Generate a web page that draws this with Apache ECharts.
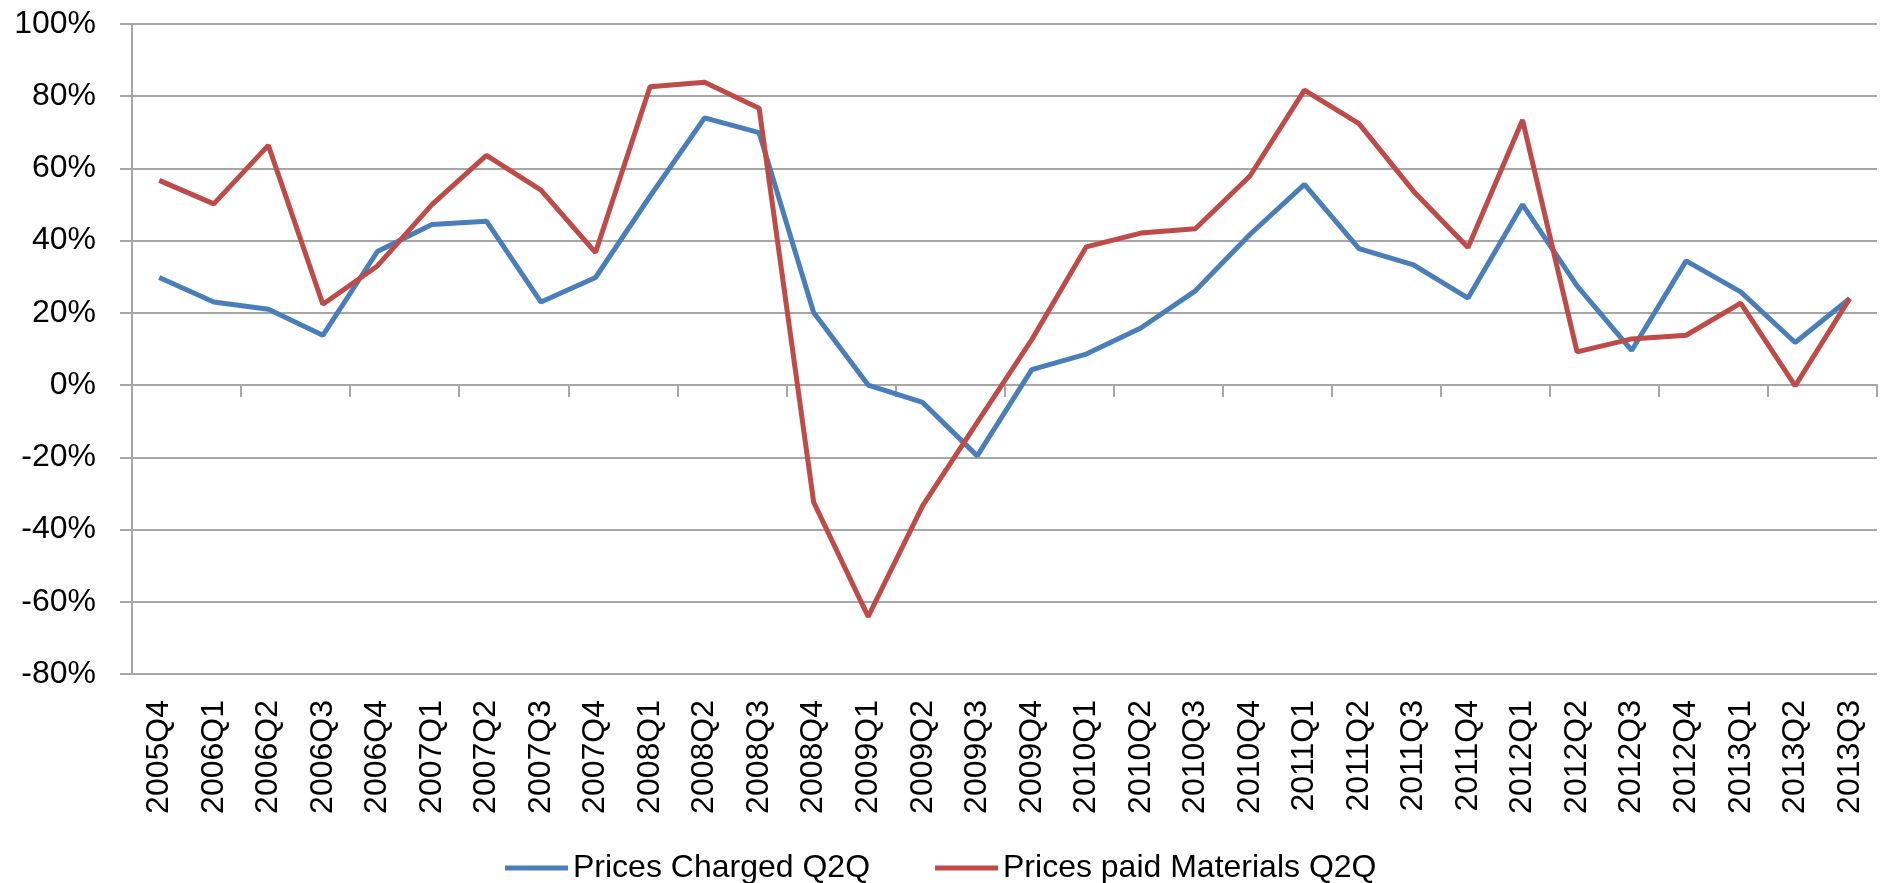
<!DOCTYPE html>
<html lang="en">

<head>
    <meta charset="UTF-8">
    <title>Prices Q2Q</title>
    <script src="https://cdn.jsdelivr.net/npm/echarts@6/dist/echarts.min.js"></script>
    <style>
        html, body {
            margin: 0;
            padding: 0;
            background: #fff;
        }

        #main {
            width: 1883px;
            height: 883px;
        }
    </style>
</head>

<body>
    <div id="main"></div>
    <script>
        // quarters on the x axis
        const quarters = [
            '2005Q4', '2006Q1', '2006Q2', '2006Q3', '2006Q4', '2007Q1', '2007Q2', '2007Q3',
            '2007Q4', '2008Q1', '2008Q2', '2008Q3', '2008Q4', '2009Q1', '2009Q2', '2009Q3',
            '2009Q4', '2010Q1', '2010Q2', '2010Q3', '2010Q4', '2011Q1', '2011Q2', '2011Q3',
            '2011Q4', '2012Q1', '2012Q2', '2012Q3', '2012Q4', '2013Q1', '2013Q2', '2013Q3'
        ];

        // values in percent
        const pricesCharged = [
            29.8, 23.0, 21.0, 13.8, 37.0, 44.5, 45.4, 23.0,
            29.8, 52.3, 74.0, 69.9, 20.1, 0.0, -4.8, -19.6,
            4.3, 8.6, 15.8, 26.1, 41.7, 55.6, 37.8, 33.3,
            24.1, 50.0, 27.5, 9.6, 34.4, 25.8, 11.8, 24.0
        ];
        const pricesPaidMaterials = [
            56.7, 50.2, 66.4, 22.4, 33.0, 50.0, 63.6, 54.0,
            36.7, 82.6, 83.9, 76.7, -32.4, -64.1, -33.4, -10.3,
            12.6, 38.3, 42.1, 43.3, 57.9, 81.7, 72.4, 53.7,
            38.1, 73.4, 9.2, 12.8, 13.8, 22.7, -0.2, 24.0
        ];

        const seriesNames = ['Prices Charged Q2Q', 'Prices paid Materials Q2Q'];
        const colors = ['#4A7EBB', '#BE4B48'];

        const font = 'Liberation Sans';
        const gridColor = '#a6a6a6';

        const chart = echarts.init(document.getElementById('main'));

        const option = {
            animation: false,
            color: colors,
            textStyle: { fontFamily: font },
            grid: {
                left: 132,
                right: 6,
                top: 24,
                bottom: 209,
                containLabel: false
            },
            legend: {
                data: seriesNames,
                left: 500,
                top: 847,
                icon: 'rect',
                itemWidth: 63,
                itemHeight: 5,
                itemGap: 65,
                textStyle: { fontSize: 32, color: '#000', fontFamily: font }
            },
            xAxis: [
                {
                    // labels along the bottom
                    type: 'category',
                    data: quarters,
                    position: 'bottom',
                    axisLine: { show: false, onZero: false },
                    axisTick: { show: false },
                    axisLabel: {
                        rotate: 90,
                        interval: 0,
                        margin: 26,
                        fontSize: 32,
                        color: '#000',
                        fontFamily: font
                    },
                    splitLine: { show: false }
                },
                {
                    // axis line with ticks at 0%
                    type: 'category',
                    data: quarters,
                    position: 'bottom',
                    axisLine: { show: true, onZero: true, lineStyle: { color: gridColor, width: 2 } },
                    axisTick: { show: true, length: 12, lineStyle: { color: gridColor, width: 2 } },
                    axisLabel: { show: false },
                    splitLine: { show: false }
                }
            ],
            yAxis: {
                type: 'value',
                min: -80,
                max: 100,
                interval: 20,
                axisLine: { show: true, lineStyle: { color: gridColor, width: 2 } },
                axisTick: { show: true, length: 12, lineStyle: { color: gridColor, width: 2 } },
                axisLabel: {
                    formatter: '{value}%',
                    margin: 36,
                    fontSize: 32,
                    color: '#000',
                    fontFamily: font
                },
                splitLine: { lineStyle: { color: gridColor, width: 2 } }
            },
            series: [
                {
                    name: seriesNames[0],
                    type: 'line',
                    data: pricesCharged,
                    symbol: 'none',
                    lineStyle: { width: 5 }
                },
                {
                    name: seriesNames[1],
                    type: 'line',
                    data: pricesPaidMaterials,
                    symbol: 'none',
                    lineStyle: { width: 5 }
                }
            ]
        };

        chart.setOption(option);
    </script>
</body>

</html>
